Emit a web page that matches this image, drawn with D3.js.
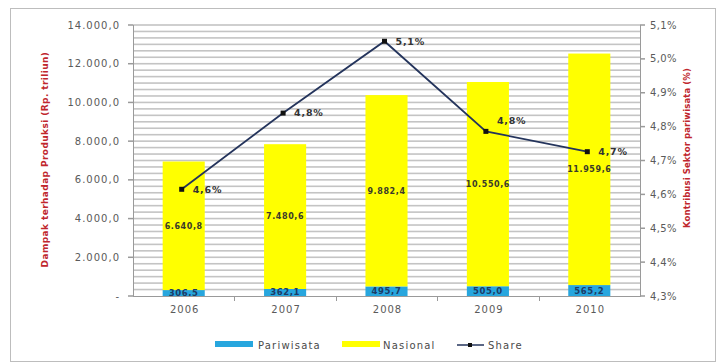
<!DOCTYPE html>
<html>
<head>
<meta charset="utf-8">
<script src="https://cdn.jsdelivr.net/npm/d3@7"></script>
<style>
  html, body { margin: 0; padding: 0; background: #fff; }
  svg { display: block; font-family: "DejaVu Sans", sans-serif; }
</style>
</head>
<body>
<svg id="chart" width="722" height="364"></svg>
<script>
// Tourism contribution to national output, 2006-2010
const years = ["2006", "2007", "2008", "2009", "2010"];
const pariwisata = [306.5, 362.1, 495.7, 505.0, 565.2];
const nasional = [6640.8, 7480.6, 9882.4, 10550.6, 11959.6];
const share = [4.615, 4.84, 5.052, 4.786, 4.726];
const leftTicks = [0, 2000, 4000, 6000, 8000, 10000, 12000, 14000];
const rightTicks = [4.3, 4.4, 4.5, 4.6, 4.7, 4.8, 4.9, 5.0, 5.1];

const idLocale = d3.formatLocale({ decimal: ",", thousands: ".", grouping: [3], currency: ["Rp", ""] });
const fmtVal = idLocale.format(",.1f");
const fmtPct = v => idLocale.format(".1f")(v) + "%";

const svg = d3.select("#chart");
const plot = { left: 133, right: 640, top: 25, bottom: 296 };

const COL_BLUE = "#27a6de";
const COL_YELLOW = "#ffff00";
const COL_LINE = "#24345c";
const COL_AXIS_TEXT = "#5a5a5a";
const COL_TITLE = "#c0262d";

// outer frame
svg.append("rect").attr("x", 10.5).attr("y", 8.5).attr("width", 705).attr("height", 353)
  .attr("fill", "#fff").attr("stroke", "#bdbdbd");

const x = d3.scaleBand().domain(years).range([plot.left, plot.right])
  .paddingInner(0.585).paddingOuter(0.2925);
const y = d3.scaleLinear().domain([0, 14000]).range([plot.bottom, plot.top]);
const y2 = d3.scaleLinear().domain([4.3, 5.1]).range([plot.bottom, plot.top]);

// dense horizontal gridlines (soft, slightly wide strokes)
const gridVals = d3.range(1, 43).map(i => i * 14000 / 42);
svg.append("g").selectAll("rect").data(gridVals).join("rect")
  .attr("x", plot.left).attr("width", plot.right - plot.left)
  .attr("y", d => y(d) - 0.8).attr("height", 1.6)
  .attr("fill", "#c4c4c4");

// stacked bars
const half = x.bandwidth() / 2;
const bars = svg.append("g");
bars.selectAll("rect.pw").data(years).join("rect").attr("class", "pw")
  .attr("x", d => x(d)).attr("width", x.bandwidth())
  .attr("y", (d, i) => y(pariwisata[i]))
  .attr("height", (d, i) => y(0) - y(pariwisata[i]))
  .attr("fill", COL_BLUE);
bars.selectAll("rect.nas").data(years).join("rect").attr("class", "nas")
  .attr("x", d => x(d)).attr("width", x.bandwidth())
  .attr("y", (d, i) => y(pariwisata[i] + nasional[i]))
  .attr("height", (d, i) => y(pariwisata[i]) - y(pariwisata[i] + nasional[i]))
  .attr("fill", COL_YELLOW);

// bar value labels
bars.selectAll("text.nasl").data(years).join("text").attr("class", "nasl")
  .attr("x", d => x(d) + half)
  .attr("y", (d, i) => (y(pariwisata[i]) + y(pariwisata[i] + nasional[i])) / 2)
  .attr("dy", "0.35em").attr("text-anchor", "middle")
  .attr("font-size", 8).attr("font-weight", "bold").attr("letter-spacing", 0.6)
  .attr("fill", "#3a3a2a")
  .text((d, i) => fmtVal(nasional[i]));
bars.selectAll("text.pwl").data(years).join("text").attr("class", "pwl")
  .attr("x", d => x(d) + half)
  .attr("y", (d, i) => (y(0) + y(pariwisata[i])) / 2)
  .attr("dy", "0.35em").attr("text-anchor", "middle")
  .attr("font-size", 8.5).attr("font-weight", "bold").attr("letter-spacing", 0.6)
  .attr("fill", "#1d3b66")
  .text((d, i) => fmtVal(pariwisata[i]));

// axes
const axisG = svg.append("g").attr("fill", "none");
const AX = "#9a9a9a";
axisG.append("line").attr("x1", plot.left + 0.5).attr("x2", plot.left + 0.5)
  .attr("y1", plot.top).attr("y2", plot.bottom).attr("stroke", AX);
axisG.append("line").attr("x1", plot.right + 0.5).attr("x2", plot.right + 0.5)
  .attr("y1", plot.top).attr("y2", plot.bottom).attr("stroke", AX);
axisG.append("line").attr("x1", plot.left).attr("x2", plot.right + 1)
  .attr("y1", plot.bottom + 0.5).attr("y2", plot.bottom + 0.5).attr("stroke", AX);

// left axis
const gl = svg.append("g");
gl.selectAll("rect").data(leftTicks).join("rect")
  .attr("x", plot.left - 5).attr("width", 5)
  .attr("y", d => y(d) - 0.75).attr("height", 1.5)
  .attr("fill", AX);
gl.selectAll("text").data(leftTicks).join("text")
  .attr("x", plot.left - 13).attr("y", d => y(d)).attr("dy", "0.35em")
  .attr("text-anchor", "end").attr("font-size", 10).attr("letter-spacing", 1)
  .attr("fill", COL_AXIS_TEXT)
  .text(d => d === 0 ? "-" : fmtVal(d));

// right axis
const gr = svg.append("g");
gr.selectAll("rect").data(rightTicks).join("rect")
  .attr("x", plot.right).attr("width", 5)
  .attr("y", d => y2(d) - 0.75).attr("height", 1.5)
  .attr("fill", AX);
gr.selectAll("text").data(rightTicks).join("text")
  .attr("x", plot.right + 10).attr("y", d => y2(d)).attr("dy", "0.35em")
  .attr("text-anchor", "start").attr("font-size", 10).attr("letter-spacing", 0.4)
  .attr("fill", COL_AXIS_TEXT)
  .text(d => fmtPct(d));

// bottom axis: ticks between categories
const step = x.step();
const gapHalf = (step - x.bandwidth()) / 2;
const bounds = years.slice(1).map(d => x(d) - gapHalf);
const gb = svg.append("g");
gb.selectAll("line").data(bounds).join("line")
  .attr("x1", d => Math.round(d) + 0.5).attr("x2", d => Math.round(d) + 0.5)
  .attr("y1", plot.bottom).attr("y2", plot.bottom + 5).attr("stroke", AX);
gb.selectAll("text").data(years).join("text")
  .attr("x", d => x(d) + half + 1).attr("y", plot.bottom + 17)
  .attr("text-anchor", "middle").attr("font-size", 10).attr("letter-spacing", 1)
  .attr("fill", COL_AXIS_TEXT)
  .text(d => d);

// axis titles
svg.append("text")
  .attr("transform", `translate(48,${(plot.top + plot.bottom) / 2 - 1}) rotate(-90)`)
  .attr("text-anchor", "middle").attr("font-size", 9).attr("font-weight", "bold")
  .attr("letter-spacing", 0.4).attr("fill", COL_TITLE)
  .text("Dampak terhadap Produksi (Rp. triliun)");
svg.append("text")
  .attr("transform", `translate(690,148) rotate(-90)`)
  .attr("text-anchor", "middle").attr("font-size", 8.5).attr("font-weight", "bold")
  .attr("letter-spacing", 0.1).attr("fill", COL_TITLE)
  .text("Kontribusi Sektor pariwisata (%)");

// share line
const cx = d => x(d) + half - 2;
const line = d3.line().x((d, i) => cx(years[i])).y(d => y2(d));
svg.append("path").datum(share).attr("d", line)
  .attr("fill", "none").attr("stroke", COL_LINE).attr("stroke-width", 1.8);
svg.append("g").selectAll("rect").data(share).join("rect")
  .attr("x", (d, i) => cx(years[i]) - 2.5).attr("y", d => y2(d) - 2.5)
  .attr("width", 5).attr("height", 5).attr("fill", "#111");

// share labels (the 2009 label sits above the point)
const labelDy = [0, 0, 0, -11, 0];
svg.append("g").selectAll("text").data(share).join("text")
  .attr("x", (d, i) => cx(years[i]) + 11).attr("y", (d, i) => y2(d) + labelDy[i])
  .attr("dy", "0.35em").attr("font-size", 9.5).attr("font-weight", "bold")
  .attr("letter-spacing", 0.8).attr("fill", "#333")
  .text(d => fmtPct(d));

// legend
const lg = svg.append("g").attr("font-size", 10).attr("letter-spacing", 1.2).attr("fill", "#4a4a4a");
const legY = 345;
lg.append("rect").attr("x", 215).attr("y", legY - 4).attr("width", 38).attr("height", 6).attr("fill", COL_BLUE);
lg.append("text").attr("x", 258).attr("y", legY).attr("dy", "0.35em").text("Pariwisata");
lg.append("rect").attr("x", 342).attr("y", legY - 4).attr("width", 38).attr("height", 6).attr("fill", COL_YELLOW);
lg.append("text").attr("x", 383).attr("y", legY).attr("dy", "0.35em").text("Nasional");
lg.append("line").attr("x1", 457).attr("x2", 484).attr("y1", legY).attr("y2", legY)
  .attr("stroke", COL_LINE).attr("stroke-width", 1.5);
lg.append("rect").attr("x", 468).attr("y", legY - 2).attr("width", 4).attr("height", 4).attr("fill", "#111");
lg.append("text").attr("x", 488).attr("y", legY).attr("dy", "0.35em").text("Share");
</script>
</body>
</html>
